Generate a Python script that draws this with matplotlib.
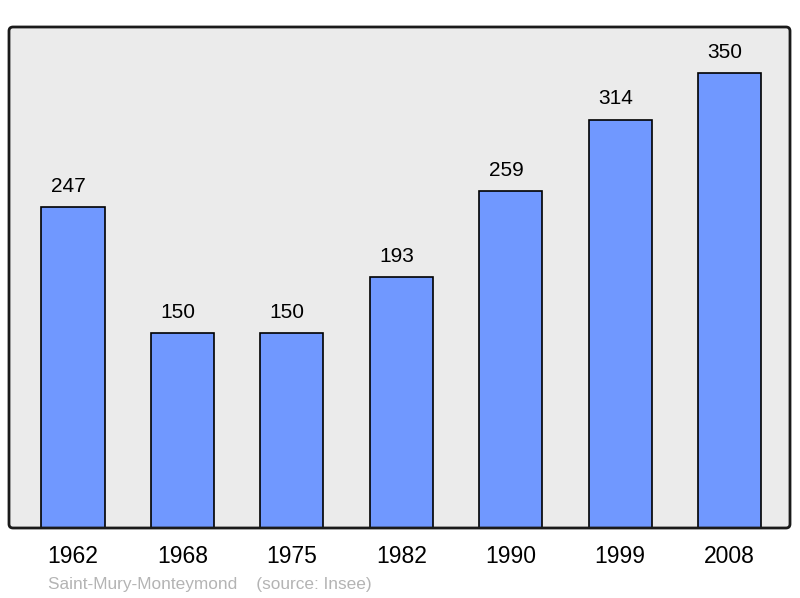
import matplotlib
matplotlib.use("Agg")
import matplotlib.pyplot as plt
from matplotlib.patches import FancyBboxPatch
from matplotlib.transforms import IdentityTransform

plt.rcParams['font.family'] = ['Liberation Sans', 'DejaVu Sans']

years = ['1962', '1968', '1975', '1982', '1990', '1999', '2008']
population = [247, 150, 150, 193, 259, 314, 350]

fig = plt.figure(figsize=(8, 5.98), dpi=100)
ax = fig.add_axes([9 / 800, 1 - 528 / 598, 781 / 800, 501 / 598])
ax.set_facecolor('#ebebeb')

x = list(range(len(years)))
ax.bar(x, population, width=0.576, color='#7098ff', edgecolor='black',
       linewidth=1.2, zorder=2)
for xi, v in zip(x, population):
    ax.annotate(str(v), (xi, v), xytext=(-3.3, 15), textcoords='offset points',
                ha='center', va='center', fontsize=15)

ax.set_xlim(-0.585, 6.553)
ax.set_ylim(0, 385.4)
ax.set_xticks(x)
ax.set_xticklabels(years, fontsize=16.5)
ax.tick_params(axis='x', length=0, pad=12.5)
ax.set_yticks([])
for s in ax.spines.values():
    s.set_visible(False)

# frame with slightly rounded corners, in pixel coordinates
frame = FancyBboxPatch((9, 598 - 528), 781, 501,
                       boxstyle='round,pad=0,rounding_size=4',
                       facecolor='none', edgecolor='#1a1a1a', linewidth=2,
                       transform=IdentityTransform(), zorder=5)
fig.patches.append(frame)

fig.text(48 / 800, 1 - 584 / 598, 'Saint-Mury-Monteymond    (source: Insee)',
         color='#b4b4b4', fontsize=12.4, va='center', ha='left')

fig.savefig('out.png', dpi=100)
